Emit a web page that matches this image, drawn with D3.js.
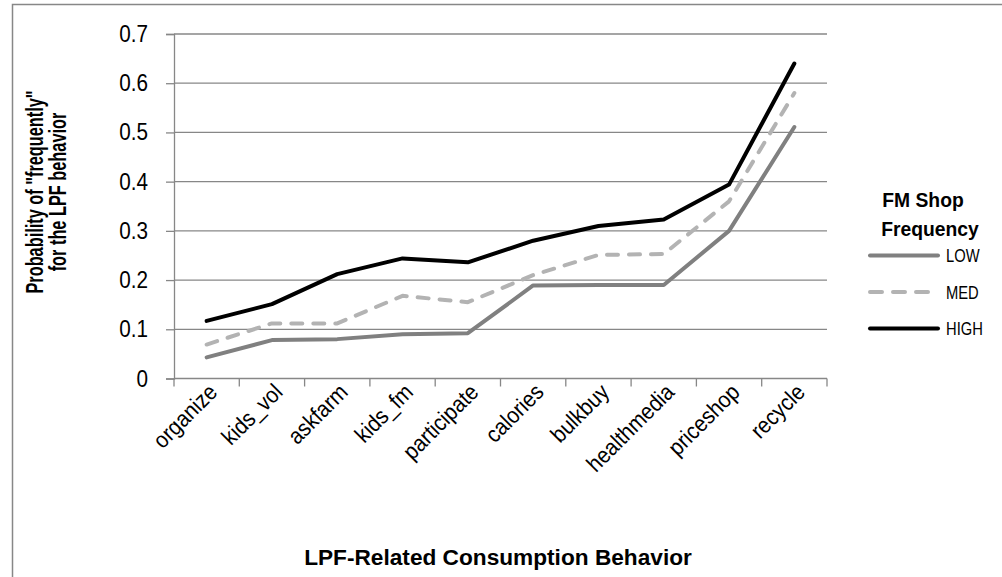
<!DOCTYPE html>
<html>
<head>
<meta charset="utf-8">
<script src="https://cdn.jsdelivr.net/npm/d3@7"></script>
<style>
  html, body { margin: 0; padding: 0; background: #fff; }
  svg { display: block; }
  text { font-family: "Liberation Sans", Arial, sans-serif; fill: #000; }
</style>
</head>
<body>
<svg id="chart" width="1002" height="577"></svg>
<script>
// Behaviours along the x axis
const categories = ["organize", "kids_vol", "askfarm", "kids_fm", "participate",
                    "calories", "bulkbuy", "healthmedia", "priceshop", "recycle"];

// Probability of "frequently" per shopping-frequency group
const lowValues  = [0.043, 0.078, 0.080, 0.090, 0.092, 0.189, 0.190, 0.190, 0.300, 0.511];
const medValues  = [0.069, 0.112, 0.112, 0.168, 0.155, 0.210, 0.251, 0.253, 0.360, 0.580];
const highValues = [0.117, 0.151, 0.212, 0.244, 0.236, 0.280, 0.310, 0.323, 0.394, 0.640];

const seriesNames = ["LOW", "MED", "HIGH"];
const yTicks = [0, 0.1, 0.2, 0.3, 0.4, 0.5, 0.6, 0.7];

const series = [
  { name: seriesNames[0], values: lowValues,  color: "#808080", dash: null },
  { name: seriesNames[1], values: medValues,  color: "#b3b3b3", dash: "11,11" },
  { name: seriesNames[2], values: highValues, color: "#000000", dash: null }
];

const svg = d3.select("#chart");
const gridColor = "#878787";

// Condensed-looking text: regular face squeezed horizontally
function narrowText(parent, opts) {
  return parent.append("text")
    .attr("transform", `translate(${opts.x},${opts.y}) rotate(${opts.rotate || 0}) scale(${opts.sx || 0.88},1)`)
    .attr("text-anchor", opts.anchor || "start")
    .attr("font-size", opts.size)
    .attr("font-weight", opts.weight || "normal")
    .text(opts.text);
}

// Outer chart frame
svg.append("rect")
  .attr("x", 12.5).attr("y", 4.5)
  .attr("width", 1100).attr("height", 700)
  .attr("fill", "none").attr("stroke", gridColor).attr("stroke-width", 1.5);

const plot = { left: 174, right: 827, top: 34, bottom: 378.5 };

const x = d3.scaleBand().domain(categories).range([plot.left, plot.right]).padding(0);
const y = d3.scaleLinear().domain([0, 0.7]).range([plot.bottom, plot.top]);

// Horizontal gridlines
svg.append("g")
  .selectAll("line")
  .data(yTicks.filter(d => d > 0))
  .join("line")
  .attr("x1", plot.left).attr("x2", plot.right)
  .attr("y1", d => y(d)).attr("y2", d => y(d))
  .attr("stroke", gridColor).attr("stroke-width", 1.3);

// Y axis line and ticks
const yAxis = svg.append("g")
  .attr("transform", `translate(${plot.left},0)`)
  .call(d3.axisLeft(y).tickValues(yTicks).tickFormat("").tickSize(8));
yAxis.select(".domain").attr("stroke", gridColor).attr("stroke-width", 1.3);
yAxis.selectAll(".tick line").attr("stroke", gridColor).attr("stroke-width", 1.3);

// Y tick labels
const yLabels = svg.append("g");
yTicks.forEach(v => {
  narrowText(yLabels, { x: 148, y: y(v) + 8, anchor: "end", size: 23, sx: 0.9, text: d3.format("")(v) });
});

// X axis with ticks on category boundaries
const xAxisG = svg.append("g").attr("transform", `translate(0,${plot.bottom})`);
xAxisG.append("line")
  .attr("x1", plot.left).attr("x2", plot.right)
  .attr("stroke", gridColor).attr("stroke-width", 1.3);
const boundaries = categories.map(c => x(c)).concat([x(categories[categories.length - 1]) + x.bandwidth()]);
xAxisG.selectAll("line.tick")
  .data(boundaries)
  .join("line")
  .attr("class", "tick")
  .attr("x1", d => d).attr("x2", d => d)
  .attr("y1", 0).attr("y2", 8)
  .attr("stroke", gridColor).attr("stroke-width", 1.3);
categories.forEach(c => {
  narrowText(xAxisG, { x: x(c) + x.bandwidth() / 2 + 12, y: 15, rotate: -45, anchor: "end", size: 23, sx: 0.9, text: c });
});

// Series lines
const line = d3.line()
  .x((d, i) => x(categories[i]) + x.bandwidth() / 2)
  .y(d => y(d));

svg.append("g")
  .selectAll("path")
  .data(series)
  .join("path")
  .attr("d", s => line(s.values))
  .attr("fill", "none")
  .attr("stroke", s => s.color)
  .attr("stroke-width", 4)
  .attr("stroke-linecap", "round")
  .attr("stroke-linejoin", "round")
  .attr("stroke-dasharray", s => s.dash);

// Axis titles
narrowText(svg, { x: 498, y: 565, anchor: "middle", size: 22, weight: "bold", sx: 1.03,
                  text: "LPF-Related Consumption Behavior" });
narrowText(svg, { x: 43, y: 192, rotate: -90, anchor: "middle", size: 24, weight: "bold", sx: 0.68,
                  text: "Probability of \"frequently\"" });
narrowText(svg, { x: 66, y: 192, rotate: -90, anchor: "middle", size: 24, weight: "bold", sx: 0.68,
                  text: "for the LPF behavior" });

// Legend
const legend = svg.append("g");
narrowText(legend, { x: 923, y: 207, anchor: "middle", size: 21, weight: "bold", sx: 0.92, text: "FM Shop" });
narrowText(legend, { x: 930, y: 236, anchor: "middle", size: 21, weight: "bold", sx: 0.92, text: "Frequency" });

const legendY = d3.scalePoint().domain(seriesNames).range([255.5, 328.5]);
series.forEach(s => {
  const ly = legendY(s.name);
  legend.append("line")
    .attr("x1", 870).attr("x2", 938)
    .attr("y1", ly).attr("y2", ly)
    .attr("stroke", s.color)
    .attr("stroke-width", 4)
    .attr("stroke-linecap", "round")
    .attr("stroke-dasharray", s.dash ? "12,11" : null);
  narrowText(legend, { x: 946, y: ly + 6.5, size: 18, sx: 0.82, text: s.name });
});
</script>
</body>
</html>
